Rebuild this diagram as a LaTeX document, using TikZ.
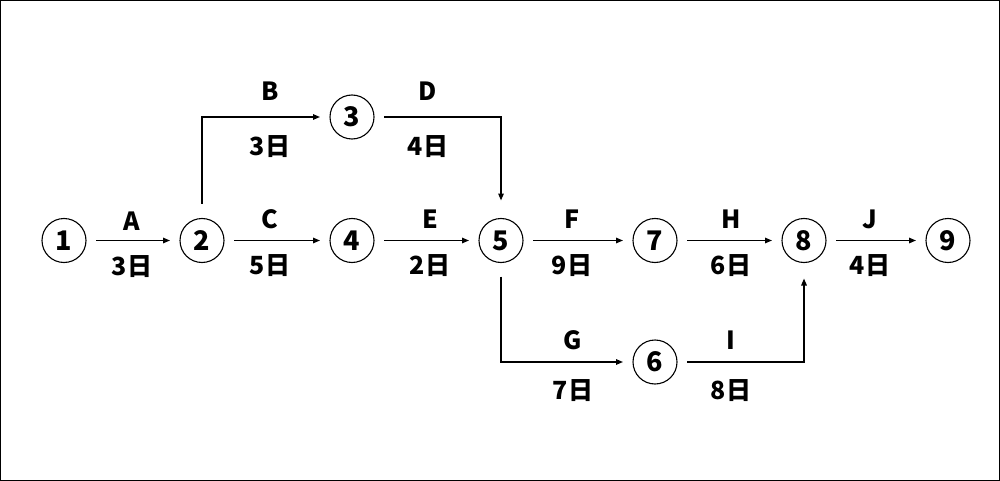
\documentclass[tikz,border=0pt]{standalone}
\usepackage{fontspec}
\setmainfont{Noto Sans CJK JP}
\usetikzlibrary{arrows.meta}

\begin{document}
\begin{tikzpicture}[x=1pt,y=-1pt, line width=1.4pt, >={Triangle[length=7pt,width=5.5pt]},
  ev/.style={circle, draw, line width=1.1pt, minimum size=44pt, inner sep=0pt, outer sep=10pt,
    font=\fontsize{27}{31}\bfseries, text height=19.5pt, text depth=0pt},
  lab/.style={inner sep=0pt, font=\fontsize{25}{29}\bfseries, text height=18pt, text depth=0pt}]
\useasboundingbox (0,0) rectangle (1000,481);
\draw[line width=1pt] (0.5,0.5) rectangle (999.5,480);
% events
\node (1) at (64,240.5) [ev] {1};
\node (2) at (202,240.5) [ev] {2};
\node (3) at (352,117) [ev] {3};
\node (4) at (352,240.5) [ev] {4};
\node (5) at (501,240.5) [ev] {5};
\node (6) at (655,362) [ev] {6};
\node (7) at (655,240.5) [ev] {7};
\node (8) at (804,240.5) [ev] {8};
\node (9) at (948,240.5) [ev] {9};
% activities
\node (A) at (132,221) [lab] {A};
\node (dA) at (132,266) [lab] {3日};
\node (B) at (270,92) [lab] {B};
\node (dB) at (270,147) [lab] {3日};
\node (C) at (270,219) [lab] {C};
\node (dC) at (270,265) [lab] {5日};
\node (D) at (428,92) [lab] {D};
\node (dD) at (428,147) [lab] {4日};
\node (E) at (430,219) [lab] {E};
\node (dE) at (430,265) [lab] {2日};
\node (F) at (572,219) [lab] {F};
\node (dF) at (572,265) [lab] {9日};
\node (G) at (573,340) [lab] {G};
\node (dG) at (573,390) [lab] {7日};
\node (H) at (731,219) [lab] {H};
\node (dH) at (731,265) [lab] {6日};
\node (I) at (731,340) [lab] {I};
\node (dI) at (731,390) [lab] {8日};
\node (J) at (870,219) [lab] {J};
\node (dJ) at (870,265) [lab] {4日};
\draw[->] (1) -- (2);
\draw[->, shorten <=5pt] (2) |- (3);
\draw[->] (2) -- (4);
\draw[->, shorten >=8pt] (3) -| (5);
\draw[->] (4) -- (5);
\draw[->, shorten <=4pt] (5) |- (6);
\draw[->] (5) -- (7);
\draw[->, shorten >=6pt] (6) -| (8);
\draw[->] (7) -- (8);
\draw[->] (8) -- (9);
\end{tikzpicture}
\end{document}
